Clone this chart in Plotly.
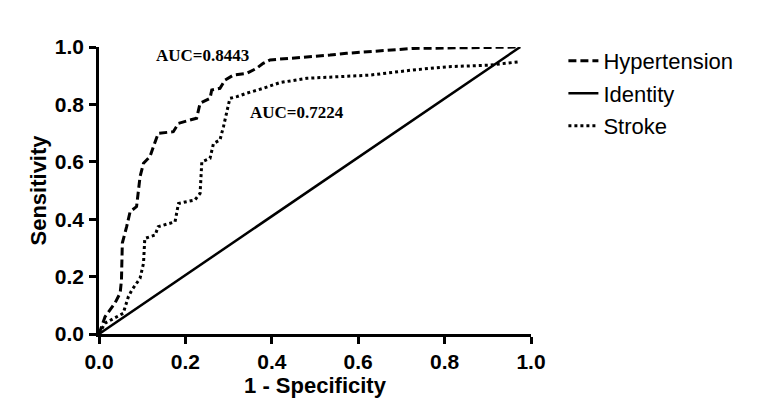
import plotly.graph_objects as go

# ROC points
hyp_fpr = [0, 0.014, 0.037, 0.049, 0.052, 0.054, 0.064, 0.072, 0.087, 0.095, 0.103, 0.118, 0.126, 0.137,
           0.172, 0.184, 0.226, 0.234, 0.257, 0.261, 0.28, 0.292, 0.311, 0.342, 0.365, 0.38, 0.396,
           0.442, 0.535, 0.573, 0.689, 0.727, 0.975]
hyp_tpr = [0, 0.06, 0.108, 0.143, 0.188, 0.317, 0.374, 0.426, 0.444, 0.548, 0.595, 0.618, 0.653, 0.699,
           0.705, 0.734, 0.752, 0.804, 0.821, 0.85, 0.856, 0.885, 0.902, 0.908, 0.926, 0.943, 0.955,
           0.96, 0.972, 0.978, 0.99, 0.995, 1.0]

stroke_fpr = [0, 0.014, 0.056, 0.068, 0.076, 0.095, 0.103, 0.106, 0.13, 0.137, 0.176, 0.184, 0.222,
              0.234, 0.238, 0.257, 0.265, 0.28, 0.288, 0.296, 0.303, 0.319, 0.342, 0.38, 0.419, 0.481,
              0.627, 0.727, 0.805, 0.905, 0.975]
stroke_tpr = [0, 0.038, 0.072, 0.13, 0.153, 0.194, 0.246, 0.333, 0.345, 0.374, 0.391, 0.455, 0.467,
              0.49, 0.6, 0.612, 0.664, 0.676, 0.722, 0.775, 0.821, 0.827, 0.839, 0.856, 0.876, 0.891,
              0.902, 0.92, 0.931, 0.937, 0.949]

identity_x = [0, 0.975]
identity_y = [0, 1.0]

auc_labels = ["AUC=0.8443", "AUC=0.7224"]

fig = go.Figure()
fig.add_trace(go.Scatter(x=hyp_fpr, y=hyp_tpr, mode="lines", name="Hypertension", legendgroup="a",
                         line=dict(color="black", width=3, dash="8px,4px")))
fig.add_trace(go.Scatter(x=identity_x, y=identity_y, mode="lines", name="Identity", legendgroup="b",
                         line=dict(color="black", width=2.5)))
fig.add_trace(go.Scatter(x=stroke_fpr, y=stroke_tpr, mode="lines", name="Stroke", legendgroup="c",
                         line=dict(color="black", width=3, dash="3px,3px")))

fig.add_annotation(x=0.24, y=0.972, text="<b>" + auc_labels[0] + "</b>", showarrow=False,
                   font=dict(family="Liberation Serif", size=17, color="black"))
fig.add_annotation(x=0.458, y=0.773, text="<b>" + auc_labels[1] + "</b>", showarrow=False,
                   font=dict(family="Liberation Serif", size=17, color="black"))

# y axis title as a rotated annotation so it sits where the reference has it
fig.add_annotation(xref="paper", yref="paper", x=0, y=0.5, xshift=-61, textangle=-90,
                   xanchor="center", yanchor="middle",
                   text="<b>Sensitivity</b>", showarrow=False,
                   font=dict(family="Liberation Sans", size=22, color="black"))

axis_common = dict(range=[0, 1], tickvals=[0, 0.2, 0.4, 0.6, 0.8, 1.0], tickformat=".1f",
                   showline=True, linecolor="black", linewidth=2.5, ticks="outside",
                   ticklen=7, tickwidth=2.5, tickcolor="black", showgrid=False, zeroline=False,
                   automargin=False,
                   tickfont=dict(family="Liberation Sans", size=21, color="black", weight="bold"))

fig.update_xaxes(**axis_common,
                 title=dict(text="1 - Specificity", standoff=6,
                            font=dict(family="Liberation Sans", size=22, color="black", weight="bold")))
fig.update_yaxes(**axis_common, ticklabelstandoff=1)

# page body adds an 8px offset, so the figure is a little smaller than the window
fig.update_layout(
    width=760, height=402,
    margin=dict(l=91, r=237, t=39, b=76, autoexpand=False),
    plot_bgcolor="white", paper_bgcolor="white",
    font=dict(family="Liberation Sans", color="black"),
    legend=dict(x=1.075, y=1.025, xanchor="left", yanchor="top",
                font=dict(family="Liberation Sans", size=22, color="black"),
                tracegroupgap=1, itemwidth=30, bgcolor="rgba(0,0,0,0)"),
)

fig.write_html("out.html")
